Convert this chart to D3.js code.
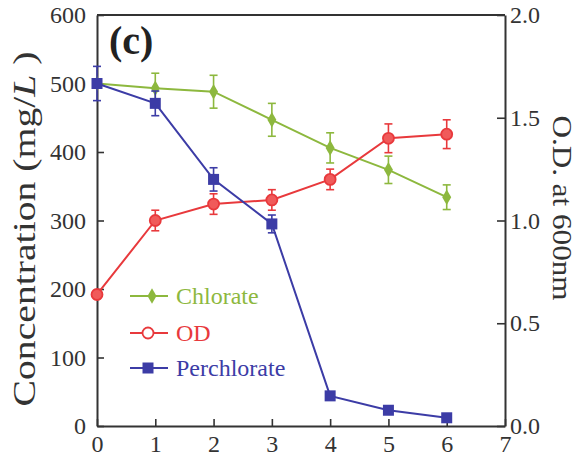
<!DOCTYPE html>
<html>
<head>
<meta charset="utf-8">
<script src="https://cdn.jsdelivr.net/npm/d3@7/dist/d3.min.js"></script>
<style>
  html, body { margin: 0; padding: 0; background: #fff; }
  svg { display: block; }
  text { font-family: "Liberation Serif", "Times New Roman", serif; }
</style>
</head>
<body>
<svg id="chart" width="578" height="459"></svg>
<script>
// Time (days)
const days = [0, 1, 2, 3, 4, 5, 6];

// Chlorate concentration (mg/L) with error bars
const chlorate    = [500, 493, 488, 447, 406, 374, 334];
const chlorateErr = [0, 22, 24, 24, 22, 20, 18];

// Optical density at 600 nm
const od    = [0.64, 1.00, 1.08, 1.10, 1.20, 1.40, 1.42];
const odErr = [0.02, 0.05, 0.05, 0.05, 0.05, 0.07, 0.07];

// Perchlorate concentration (mg/L) with error bars
const perchlorate    = [500, 471, 360, 295, 44, 23, 12];
const perchlorateErr = [25, 18, 17, 13, 3, 3, 3];

const xTicks  = [0, 1, 2, 3, 4, 5, 6, 7];
const yTicks  = [0, 100, 200, 300, 400, 500, 600];
const y2Ticks = [0, 0.5, 1.0, 1.5, 2.0];

const green = "#8db83e", red = "#e8393c", blue = "#3c3ca6";

const svg = d3.select("#chart");
const plotL = 97, plotR = 505, plotT = 15, plotB = 426;

const x  = d3.scaleLinear().domain([0, 7]).range([plotL, plotR]);
const y  = d3.scaleLinear().domain([0, 600]).range([plotB, plotT]);
const y2 = d3.scaleLinear().domain([0, 2]).range([plotB, plotT]);

// Frame: top border line
svg.append("line").attr("x1", plotL).attr("x2", plotR).attr("y1", plotT).attr("y2", plotT)
  .attr("stroke", "#333").attr("stroke-width", 2);

function styleAxis(g) {
  g.selectAll(".domain").attr("stroke", "#333").attr("stroke-width", 2);
  g.selectAll(".tick line").attr("stroke", "#333").attr("stroke-width", 1.6);
  g.selectAll(".tick text").attr("font-family", "Liberation Serif, serif")
    .attr("font-size", 24).attr("fill", "#333");
}

svg.append("g").attr("transform", `translate(0,${plotB})`)
  .call(d3.axisBottom(x).tickValues(xTicks).tickFormat(d3.format("d"))
        .tickSize(-7).tickSizeOuter(0).tickPadding(9))
  .call(styleAxis);

svg.append("g").attr("transform", `translate(${plotL},0)`)
  .call(d3.axisLeft(y).tickValues(yTicks).tickFormat(d3.format("d"))
        .tickSize(-7).tickSizeOuter(0).tickPadding(11))
  .call(styleAxis);

svg.append("g").attr("transform", `translate(${plotR},0)`)
  .call(d3.axisRight(y2).tickValues(y2Ticks).tickFormat(d3.format(".1f"))
        .tickSize(-8).tickSizeOuter(0).tickPadding(5))
  .call(styleAxis);

// Axis titles
svg.append("text")
  .attr("transform", `translate(35,229) rotate(-90)`)
  .attr("text-anchor", "middle").attr("font-size", 31).attr("fill", "#333")
  .attr("textLength", 355).attr("lengthAdjust", "spacingAndGlyphs")
  .html('Concentration (mg/<tspan font-style="italic">L</tspan> )');

svg.append("text")
  .attr("transform", `translate(553,208) rotate(90)`)
  .attr("text-anchor", "middle").attr("font-size", 28).attr("fill", "#333")
  .attr("textLength", 185).attr("lengthAdjust", "spacingAndGlyphs")
  .text("O.D. at 600nm");

// Panel label
svg.append("text").attr("x", 109).attr("y", 54)
  .attr("font-size", 40).attr("font-weight", "bold").attr("fill", "#222")
  .text("(c)");

// Series drawing helper
function drawSeries(vals, errs, scale, color) {
  const g = svg.append("g");
  const line = d3.line().x((d, i) => x(days[i])).y(d => scale(d));
  g.append("path").datum(vals).attr("d", line)
    .attr("fill", "none").attr("stroke", color).attr("stroke-width", 2);
  const eb = g.selectAll(".eb").data(vals).enter().append("g");
  eb.append("line")
    .attr("x1", (d, i) => x(days[i])).attr("x2", (d, i) => x(days[i]))
    .attr("y1", (d, i) => scale(d - errs[i])).attr("y2", (d, i) => scale(d + errs[i]))
    .attr("stroke", color).attr("stroke-width", 1.6);
  ["-", "+"].forEach(s => {
    eb.append("line")
      .attr("x1", (d, i) => x(days[i]) - 4).attr("x2", (d, i) => x(days[i]) + 4)
      .attr("y1", (d, i) => scale(s === "+" ? d + errs[i] : d - errs[i]))
      .attr("y2", (d, i) => scale(s === "+" ? d + errs[i] : d - errs[i]))
      .attr("stroke", color).attr("stroke-width", 1.6);
  });
  return g;
}

function diamond(g, cx, cy, color) {
  g.append("path").attr("d", d3.symbol(d3.symbolDiamond, 70)())
    .attr("transform", `translate(${cx},${cy})`).attr("fill", color);
}
function circle(g, cx, cy, color, fill) {
  g.append("circle").attr("cx", cx).attr("cy", cy).attr("r", 5.5)
    .attr("fill", fill).attr("stroke", color).attr("stroke-width", 1.8);
}
function square(g, cx, cy, color) {
  g.append("rect").attr("x", cx - 5.5).attr("y", cy - 5.5)
    .attr("width", 11).attr("height", 11).attr("fill", color);
}

const gC = drawSeries(chlorate, chlorateErr, y, green);
chlorate.forEach((v, i) => diamond(gC, x(days[i]), y(v), green));

const gO = drawSeries(od, odErr, y2, red);
od.forEach((v, i) => circle(gO, x(days[i]), y2(v), red, "#f05a5a"));

const gP = drawSeries(perchlorate, perchlorateErr, y, blue);
perchlorate.forEach((v, i) => square(gP, x(days[i]), y(v), blue));

// Legend
const legend = [
  { name: "Chlorate", color: green, mark: "diamond", ly: 296, mx: 152 },
  { name: "OD", color: red, mark: "circle", ly: 333, mx: 148 },
  { name: "Perchlorate", color: blue, mark: "square", ly: 368, mx: 148 }
];
legend.forEach(d => {
  const g = svg.append("g");
  g.append("line").attr("x1", 130).attr("x2", 168).attr("y1", d.ly).attr("y2", d.ly)
    .attr("stroke", d.color).attr("stroke-width", 2);
  if (d.mark === "diamond") diamond(g, d.mx, d.ly, d.color);
  if (d.mark === "circle") circle(g, d.mx, d.ly, d.color, "#fff");
  if (d.mark === "square") square(g, d.mx, d.ly, d.color);
  g.append("text").attr("x", 176).attr("y", d.ly + 8)
    .attr("font-size", 24).attr("fill", d.color).text(d.name);
});
</script>
</body>
</html>
